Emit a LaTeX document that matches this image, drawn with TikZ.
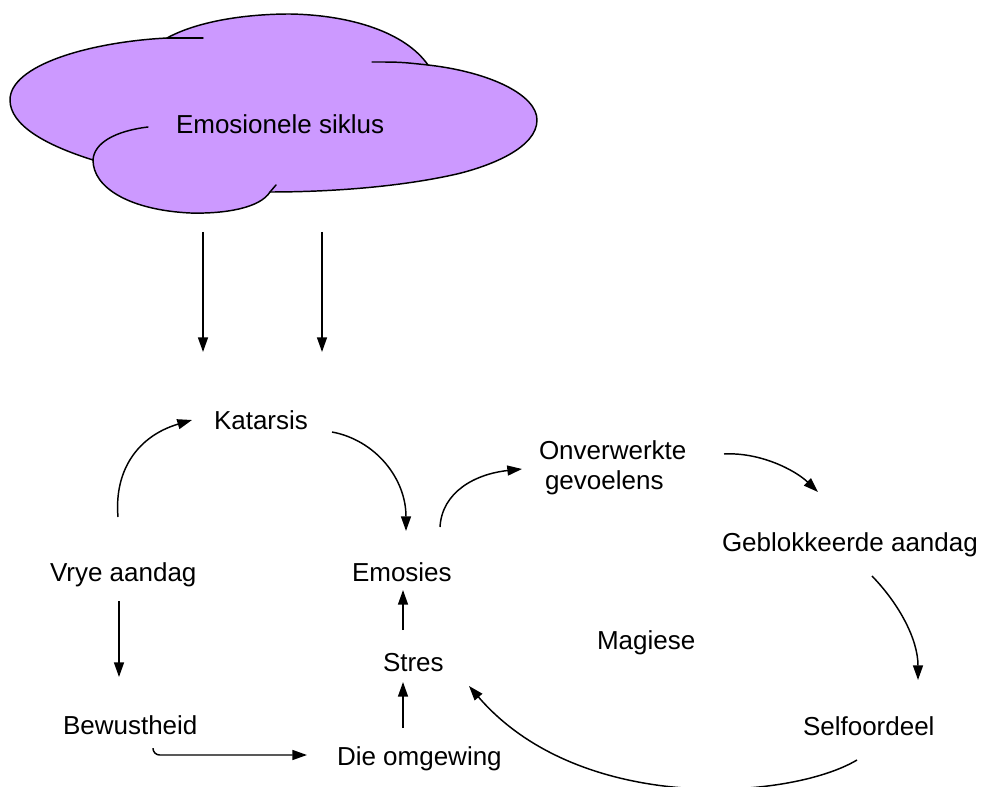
\documentclass[tikz,border=0pt]{standalone}
\usepackage{fontspec}
\setmainfont{Liberation Sans}
\usetikzlibrary{arrows.meta}
\definecolor{cloudfill}{RGB}{204,153,255}
\begin{document}
\begin{tikzpicture}[x=0.75pt,y=-0.75pt,
  lbl/.style={anchor=base west,inner sep=0pt,outer sep=0pt,font=\fontsize{19.5pt}{22.5pt}\selectfont},
  link/.style={line width=1.1pt,-{Triangle[length=11pt,width=7.5pt]}},
  outline/.style={line width=1.1pt,line join=round,line cap=round}]
\useasboundingbox (0,0) rectangle (984,787);

% cloud body
\path[fill=cloudfill,draw=black,outline]
  (93,160) .. controls (45,145) and (10,125) .. (10,100)
  .. controls (10,65) and (90,42) .. (167,38)
  .. controls (200,20) and (250,14) .. (290,14)
  .. controls (350,15) and (405,32) .. (428,65)
  .. controls (490,72) and (537,95) .. (537,120)
  .. controls (537,148) and (490,166) .. (457,174)
  .. controls (400,187) and (330,192) .. (270,192)
  .. controls (260,208) and (225,214) .. (190,213)
  .. controls (130,210) and (93,188) .. (93,160) -- cycle;
% inner folds of the cloud
\draw[outline] (167,38) -- (203,38);
\draw[outline] (372,62) .. controls (400,62) .. (428,65);
\draw[outline] (148,127) .. controls (115,131) and (94,143) .. (93,160);
\draw[outline] (270,192) -- (276,185);

\node[lbl] (cyc) at (176,134) {Emosionele siklus};
\node[lbl] (kat) at (214,429) {Katarsis};
\node[lbl] (emo) at (352,581) {Emosies};
\node[lbl,align=left] (onv) at (539,489) {Onverwerkte\\\hspace*{4.5pt}gevoelens};
\node[lbl] (geb) at (722,551) {Geblokkeerde aandag};
\node[lbl] (vry) at (50,581) {Vrye aandag};
\node[lbl] (mag) at (597,649) {Magiese};
\node[lbl] (str) at (383,671) {Stres};
\node[lbl] (bew) at (63,734) {Bewustheid};
\node[lbl] (omg) at (337,765) {Die omgewing};
\node[lbl] (sel) at (803,735) {Selfoordeel};

% connector end points
\coordinate (cA1) at (203,232); \coordinate (cA2) at (203,352);
\coordinate (cB1) at (322,232); \coordinate (cB2) at (322,352);
\coordinate (vk1) at (118,517); \coordinate (vk2) at (192,420);
\coordinate (ke1) at (332,432); \coordinate (ke2) at (406,531);
\coordinate (eo1) at (440,527); \coordinate (eo2) at (522,469);
\coordinate (og1) at (724,454); \coordinate (og2) at (818,492);
\coordinate (gs1) at (872,576); \coordinate (gs2) at (918,680);
\coordinate (ss1) at (857,760); \coordinate (ss2) at (469,686);
\coordinate (vb1) at (119,601); \coordinate (vb2) at (119,677);
\coordinate (bo1) at (153,748); \coordinate (bo2) at (307,755);
\coordinate (os1) at (403,728); \coordinate (os2) at (403,682);
\coordinate (se1) at (403,630); \coordinate (se2) at (403,590);

\draw[link] (cA1) -- (cA2);
\draw[link] (cB1) -- (cB2);
\draw[link] (vk1) .. controls (114,470) and (138,436) .. (vk2);
\draw[link] (ke1) .. controls (375,440) and (406,478) .. (ke2);
\draw[link] (eo1) .. controls (442,492) and (475,474) .. (eo2);
\draw[link] (og1) .. controls (760,452) and (795,470) .. (og2);
\draw[link] (gs1) .. controls (900,605) and (918,640) .. (gs2);
\draw[link] (ss1) .. controls (790,800) and (580,815) .. (ss2);
\draw[link] (vb1) -- (vb2);
\draw[link,rounded corners=5pt] (bo1) |- (bo2);
\draw[link] (os1) -- (os2);
\draw[link] (se1) -- (se2);
\end{tikzpicture}
\end{document}
